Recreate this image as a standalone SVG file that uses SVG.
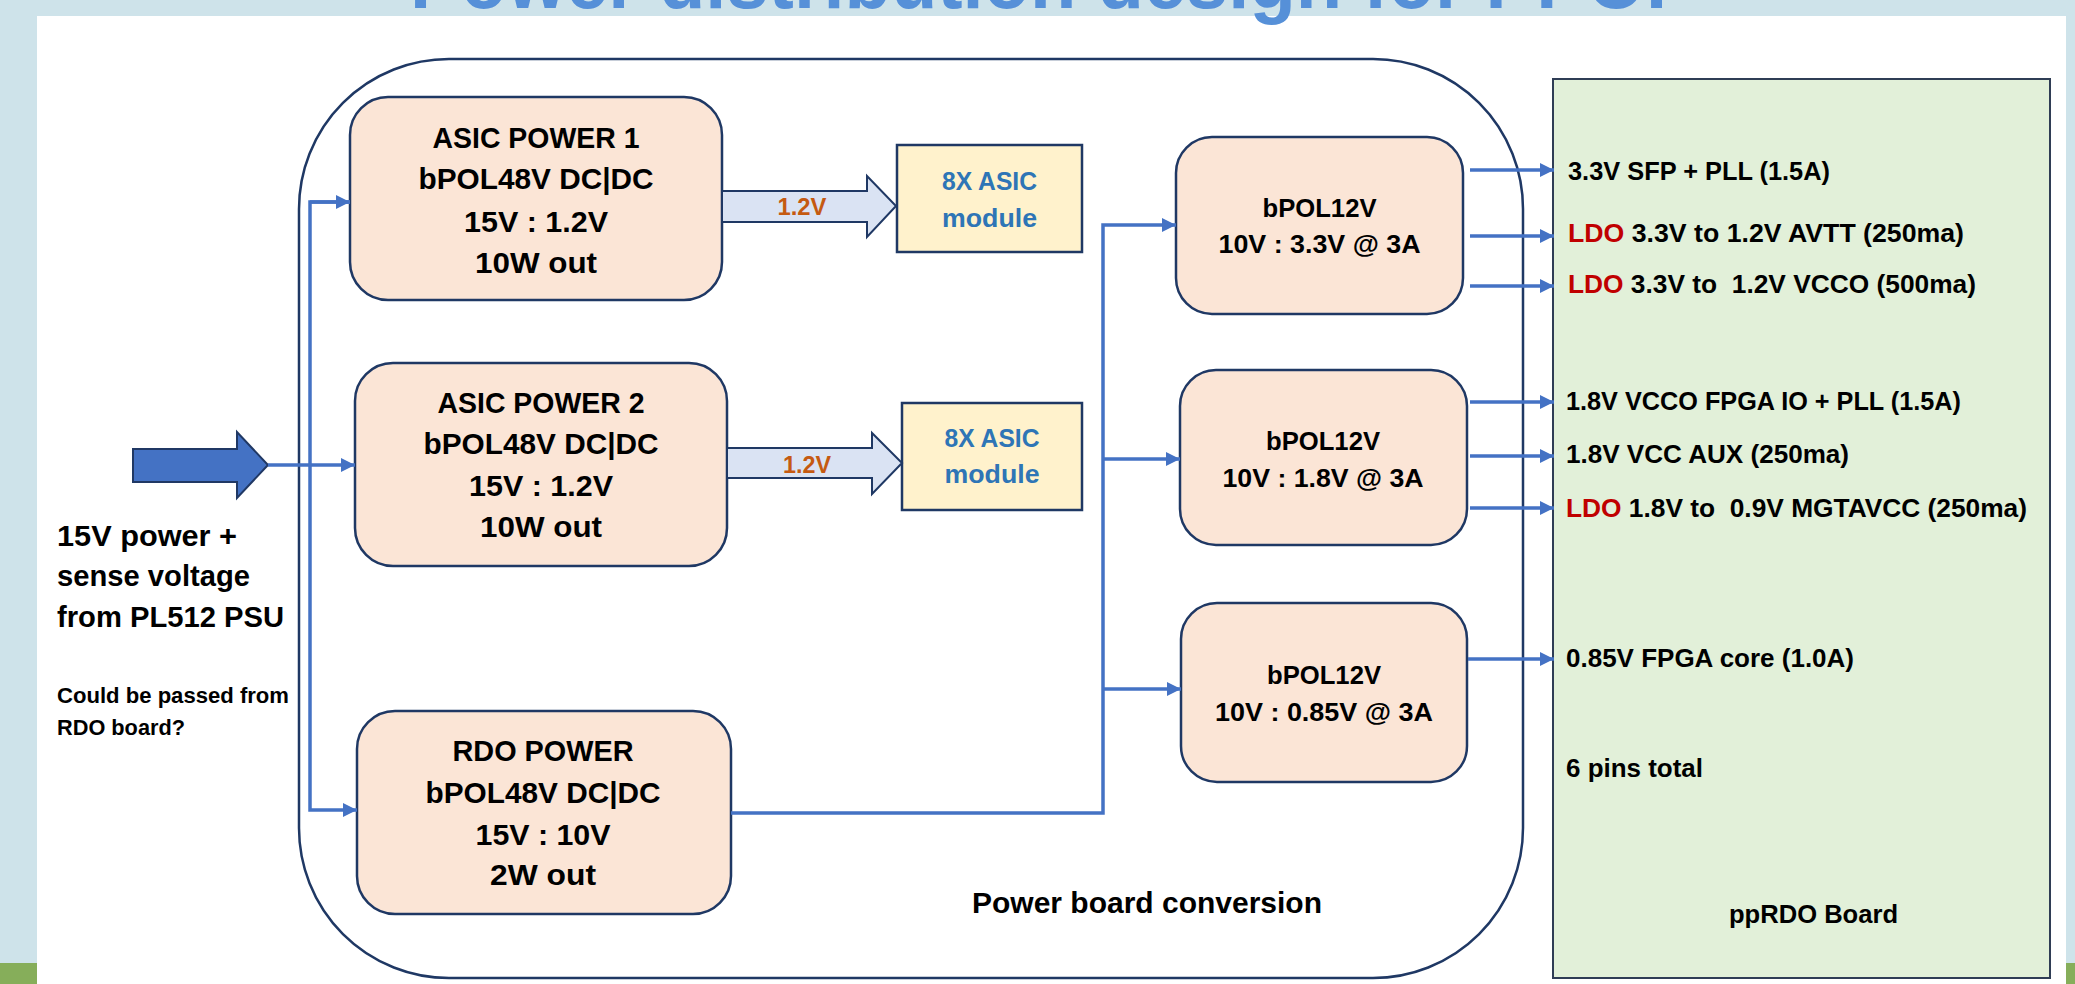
<svg xmlns="http://www.w3.org/2000/svg" width="2075" height="984" viewBox="0 0 2075 984">
<defs>
<style>
.t{font-family:"Liberation Sans",Arial,sans-serif;font-weight:bold;fill:#000}
.c{text-anchor:middle}
.box{fill:#FBE5D6;stroke:#1F3864;stroke-width:2.5}
.mod{fill:#FFF2CC;stroke:#1F3864;stroke-width:2.5}
.conn{stroke:#4472C4;stroke-width:3.5;fill:none}
.blue{fill:#2E75B6}
.org{fill:#C55A11}
.red{fill:#C00000}
</style>
<marker id="ah" viewBox="0 0 10 10" refX="10" refY="5" markerWidth="14" markerHeight="14" markerUnits="userSpaceOnUse" orient="auto">
<path d="M0,0 L10,5 L0,10 z" fill="#4472C4"/>
</marker>
</defs>
<rect x="0" y="0" width="2075" height="984" fill="#CEE3EA"/>
<rect x="37" y="16" width="2029" height="968" fill="#FFFFFF"/>
<rect x="0" y="963" width="37" height="21" fill="#86AE5A"/>
<rect x="2066" y="963" width="9" height="21" fill="#86AE5A"/>
<text x="410" y="8" font-family="Liberation Sans,Arial,sans-serif" font-weight="bold" font-size="82" fill="#5690D8" textLength="1257" lengthAdjust="spacingAndGlyphs">Power distribution design for PPOI</text>

<g id="container">
<rect x="299" y="59" width="1224" height="919" rx="150" ry="150" fill="none" stroke="#1F3864" stroke-width="2.5"/>
<text class="t c" x="1147" y="913" font-size="29.5" textLength="350" lengthAdjust="spacingAndGlyphs">Power board conversion</text>
</g>

<g id="input">
<polygon points="133,449 237,449 237,432 268,465 237,498 237,482 133,482" fill="#4472C4" stroke="#203864" stroke-width="2"/>
<text class="t" x="57" y="546" font-size="29" textLength="180" lengthAdjust="spacingAndGlyphs">15V power +</text>
<text class="t" x="57" y="586" font-size="29" textLength="193" lengthAdjust="spacingAndGlyphs">sense voltage</text>
<text class="t" x="57" y="627" font-size="29" textLength="227" lengthAdjust="spacingAndGlyphs">from PL512 PSU</text>
<text class="t" x="57" y="703" font-size="22.5" textLength="232" lengthAdjust="spacingAndGlyphs">Could be passed from</text>
<text class="t" x="57" y="735" font-size="22.5" textLength="128" lengthAdjust="spacingAndGlyphs">RDO board?</text>
</g>

<g id="asic-power-1">
<rect class="box" x="350" y="97" width="372" height="203" rx="38"/>
<text class="t c" x="536" y="148" font-size="29.5" textLength="207" lengthAdjust="spacingAndGlyphs">ASIC POWER 1</text>
<text class="t c" x="536" y="189" font-size="29.5" textLength="235" lengthAdjust="spacingAndGlyphs">bPOL48V DC|DC</text>
<text class="t c" x="536" y="232" font-size="29.5" textLength="144" lengthAdjust="spacingAndGlyphs">15V : 1.2V</text>
<text class="t c" x="536" y="273" font-size="29.5" textLength="122" lengthAdjust="spacingAndGlyphs">10W out</text>
</g>

<g id="asic-power-2">
<rect class="box" x="355" y="363" width="372" height="203" rx="38"/>
<text class="t c" x="541" y="413" font-size="29.5" textLength="207" lengthAdjust="spacingAndGlyphs">ASIC POWER 2</text>
<text class="t c" x="541" y="454" font-size="29.5" textLength="235" lengthAdjust="spacingAndGlyphs">bPOL48V DC|DC</text>
<text class="t c" x="541" y="496" font-size="29.5" textLength="144" lengthAdjust="spacingAndGlyphs">15V : 1.2V</text>
<text class="t c" x="541" y="537" font-size="29.5" textLength="122" lengthAdjust="spacingAndGlyphs">10W out</text>
</g>

<g id="rdo-power">
<rect class="box" x="357" y="711" width="374" height="203" rx="38"/>
<text class="t c" x="543" y="761" font-size="29.5" textLength="181" lengthAdjust="spacingAndGlyphs">RDO POWER</text>
<text class="t c" x="543" y="803" font-size="29.5" textLength="235" lengthAdjust="spacingAndGlyphs">bPOL48V DC|DC</text>
<text class="t c" x="543" y="845" font-size="29.5" textLength="135" lengthAdjust="spacingAndGlyphs">15V : 10V</text>
<text class="t c" x="543" y="885" font-size="29.5" textLength="106" lengthAdjust="spacingAndGlyphs">2W out</text>
</g>

<g id="asic-module-1">
<rect class="mod" x="897" y="145" width="185" height="107"/>
<text class="t c blue" x="989.5" y="190" font-size="25" textLength="95" lengthAdjust="spacingAndGlyphs">8X ASIC</text>
<text class="t c blue" x="989.5" y="227" font-size="25" textLength="95" lengthAdjust="spacingAndGlyphs">module</text>
</g>

<g id="asic-module-2">
<rect class="mod" x="902" y="403" width="180" height="107"/>
<text class="t c blue" x="992" y="447" font-size="25" textLength="95" lengthAdjust="spacingAndGlyphs">8X ASIC</text>
<text class="t c blue" x="992" y="483" font-size="25" textLength="95" lengthAdjust="spacingAndGlyphs">module</text>
</g>

<g id="bpol12v-1">
<rect class="box" x="1176" y="137" width="287" height="177" rx="36"/>
<text class="t c" x="1319.5" y="217" font-size="26" textLength="114" lengthAdjust="spacingAndGlyphs">bPOL12V</text>
<text class="t c" x="1319.5" y="253" font-size="26" textLength="202" lengthAdjust="spacingAndGlyphs">10V : 3.3V @ 3A</text>
</g>

<g id="bpol12v-2">
<rect class="box" x="1180" y="370" width="287" height="175" rx="36"/>
<text class="t c" x="1323" y="450" font-size="26" textLength="114" lengthAdjust="spacingAndGlyphs">bPOL12V</text>
<text class="t c" x="1323" y="487" font-size="26" textLength="201" lengthAdjust="spacingAndGlyphs">10V : 1.8V @ 3A</text>
</g>

<g id="bpol12v-3">
<rect class="box" x="1181" y="603" width="286" height="179" rx="36"/>
<text class="t c" x="1324" y="684" font-size="26" textLength="114" lengthAdjust="spacingAndGlyphs">bPOL12V</text>
<text class="t c" x="1324" y="721" font-size="26" textLength="218" lengthAdjust="spacingAndGlyphs">10V : 0.85V @ 3A</text>
</g>

<g id="pprdo-board">
<rect x="1553" y="79" width="497" height="899" fill="#E2F0D9" stroke="#2F3D55" stroke-width="2"/>
<text class="t" x="1568" y="180" font-size="25" textLength="262" lengthAdjust="spacingAndGlyphs">3.3V SFP + PLL (1.5A)</text>
<text class="t" x="1568" y="242" font-size="25" textLength="396" lengthAdjust="spacingAndGlyphs"><tspan class="red">LDO</tspan> 3.3V to 1.2V AVTT (250ma)</text>
<text class="t" x="1568" y="293" font-size="25" style="white-space:pre" textLength="408" lengthAdjust="spacingAndGlyphs"><tspan class="red">LDO</tspan> 3.3V to  1.2V VCCO (500ma)</text>
<text class="t" x="1566" y="410" font-size="25" textLength="395" lengthAdjust="spacingAndGlyphs">1.8V VCCO FPGA IO + PLL (1.5A)</text>
<text class="t" x="1566" y="463" font-size="25" textLength="283" lengthAdjust="spacingAndGlyphs">1.8V VCC AUX (250ma)</text>
<text class="t" x="1566" y="517" font-size="25" style="white-space:pre" textLength="461" lengthAdjust="spacingAndGlyphs"><tspan class="red">LDO</tspan> 1.8V to  0.9V MGTAVCC (250ma)</text>
<text class="t" x="1566" y="667" font-size="25" textLength="288" lengthAdjust="spacingAndGlyphs">0.85V FPGA core (1.0A)</text>
<text class="t" x="1566" y="777" font-size="25" textLength="137" lengthAdjust="spacingAndGlyphs">6 pins total</text>
<text class="t" x="1729" y="923" font-size="26" textLength="169" lengthAdjust="spacingAndGlyphs">ppRDO Board</text>
</g>

<g id="connectors">
<polygon points="722,191 867,191 867,176 896,206 867,237 867,222 722,222" fill="#DAE3F3" stroke="#1F3864" stroke-width="2"/>
<text class="t c org" x="802" y="215" font-size="23" textLength="49" lengthAdjust="spacingAndGlyphs">1.2V</text>
<polygon points="727,448 872,448 872,433 902,463 872,494 872,478 727,478" fill="#DAE3F3" stroke="#1F3864" stroke-width="2"/>
<text class="t c org" x="807" y="473" font-size="23" textLength="48" lengthAdjust="spacingAndGlyphs">1.2V</text>
<path class="conn" d="M268,465 H355" marker-end="url(#ah)"/>
<path class="conn" d="M350,202 H310 V810 H357" marker-end="url(#ah)"/>
<path class="conn" d="M310,202 H350" marker-end="url(#ah)"/>
<path class="conn" d="M731,813 H1103 V225 H1176" marker-end="url(#ah)"/>
<path class="conn" d="M1103,459 H1180" marker-end="url(#ah)"/>
<path class="conn" d="M1103,689 H1181" marker-end="url(#ah)"/>
<path class="conn" d="M1470,170 H1554" marker-end="url(#ah)"/>
<path class="conn" d="M1470,236 H1554" marker-end="url(#ah)"/>
<path class="conn" d="M1470,286 H1554" marker-end="url(#ah)"/>
<path class="conn" d="M1470,402 H1554" marker-end="url(#ah)"/>
<path class="conn" d="M1470,456 H1554" marker-end="url(#ah)"/>
<path class="conn" d="M1470,508 H1554" marker-end="url(#ah)"/>
<path class="conn" d="M1468,659 H1554" marker-end="url(#ah)"/>
</g>
</svg>
